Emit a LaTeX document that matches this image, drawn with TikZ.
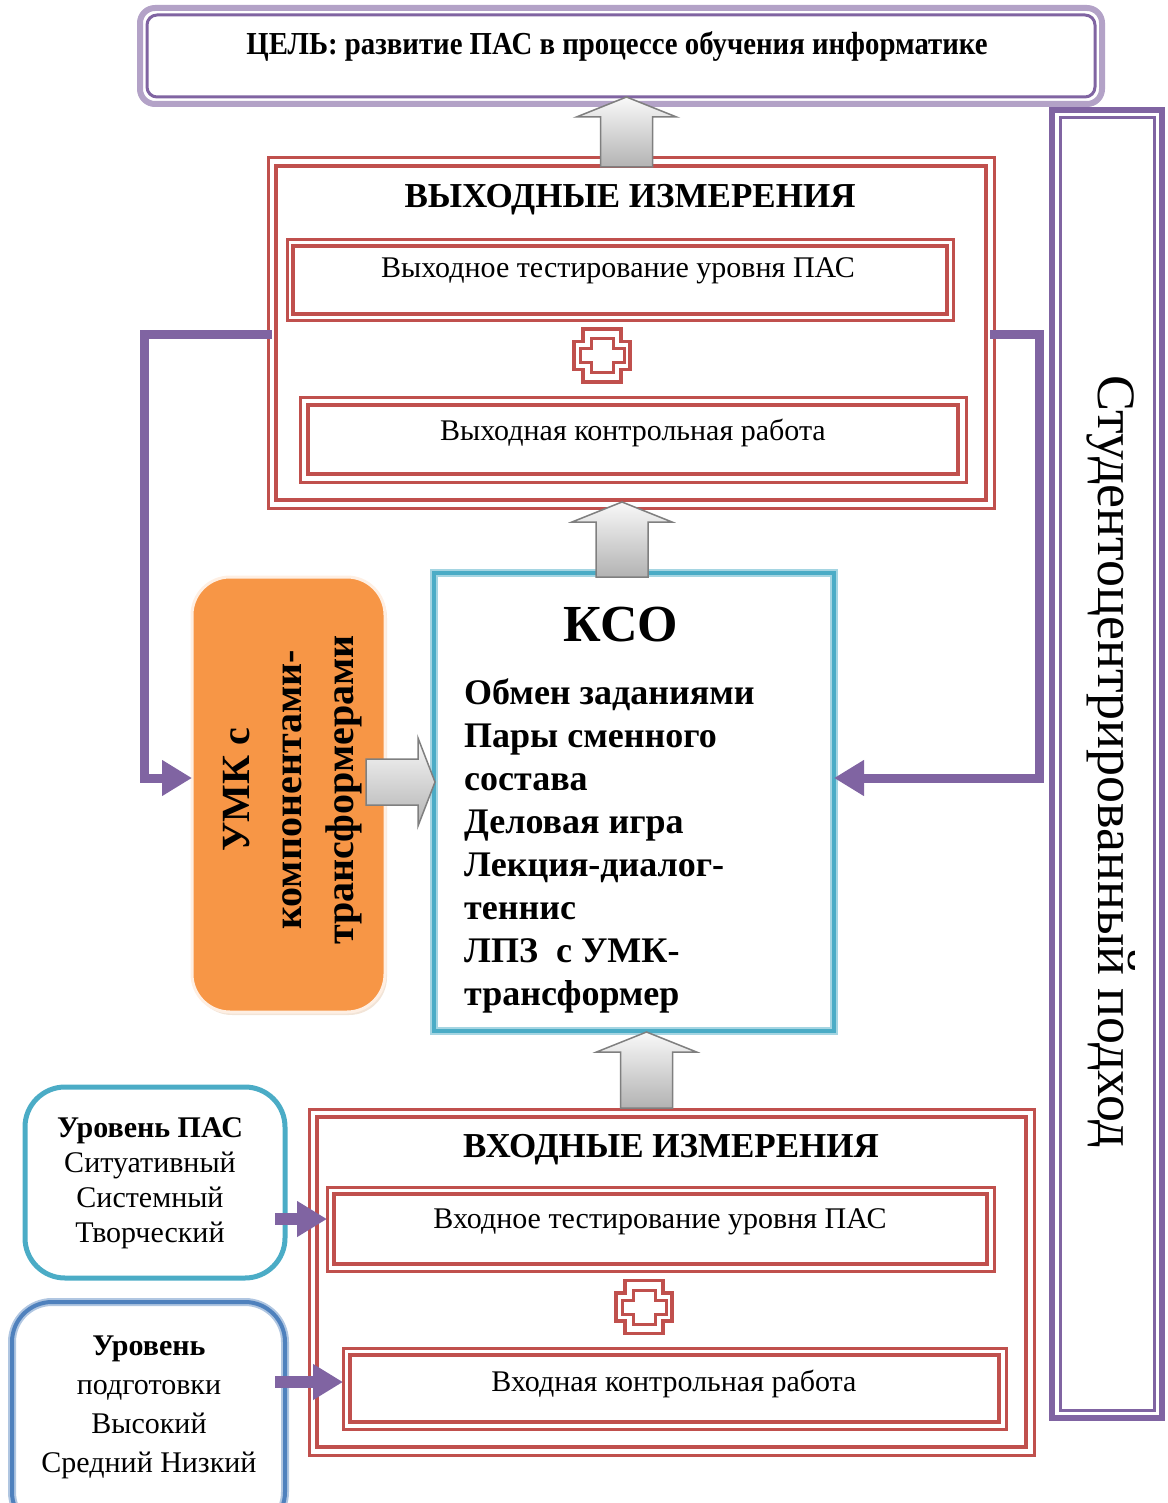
\documentclass[tikz,border=0pt]{standalone}
\usepackage{fontspec}
\setmainfont{Liberation Serif}
\usetikzlibrary{arrows.meta,calc,shadows}

\definecolor{violetd}{HTML}{8064A2}
\definecolor{lavender}{HTML}{B3A2C7}
\definecolor{brick}{HTML}{C0504D}
\definecolor{kcoteal}{HTML}{4BACC6}
\definecolor{kcolight}{HTML}{A5D5E2}
\definecolor{steelb}{HTML}{4F81BD}
\definecolor{umkorange}{HTML}{F79646}
\definecolor{arrowgray}{HTML}{7F7F7F}

\newcommand\fs[2]{\fontsize{#1}{#2}\selectfont}

% second (inner) outline of a framed node, drawn at a given inset
\newcommand\insetframe[3]{%
  \draw[#3] ($(#1.north west)+(#2,#2)$) rectangle ($(#1.south east)-(#2,#2)$);}

% grey block arrow pointing up: #1 = foot of the shaft, #2 = tip
\newcommand\upblock[2]{%
  \path[grayblock] let \p1=(#1), \p2=(#2) in
    (\x1-26pt,\y1) -- (\x1-26pt,\y2-20pt) -- (\x1-50pt,\y2-20pt) -- (\x1,\y2)
    -- (\x1+50pt,\y2-20pt) -- (\x1+26pt,\y2-20pt) -- (\x1+26pt,\y1) -- cycle;}

% grey block arrow pointing right: #1 = tail of the shaft, #2 = tip
\newcommand\rightblock[2]{%
  \path[grayblock] let \p1=(#1), \p2=(#2) in
    (\x1,\y1+23pt) -- (\x2-17pt,\y1+23pt) -- (\x2-17pt,\y1+44pt) -- (\x2,\y1)
    -- (\x2-17pt,\y1-44pt) -- (\x2-17pt,\y1-23pt) -- (\x1,\y1-23pt) -- cycle;}

\tikzset{
  frame/.style={inner sep=0pt, outer sep=0pt},
  redframe/.style={frame, draw=brick, line width=3pt},
  redinner/.style={draw=brick, line width=4.5pt},
  grayblock/.style={draw=arrowgray, line width=1.5pt, top color=gray!5, bottom color=gray!60},
  loopline/.style={draw=violetd, line width=9pt, -{Triangle[length=30pt,width=34pt]}},
  fatarrow/.style={draw=violetd, line width=12pt, -{Triangle[length=30pt,width=34pt]}},
  crossmark/.pic={
    \draw[brick, line width=3.5pt]
      (-19,-26.5) -- (19,-26.5) -- (19,-14) -- (28,-14) -- (28,14) -- (19,14)
      -- (19,26.5) -- (-19,26.5) -- (-19,14) -- (-28,14) -- (-28,-14) -- (-19,-14) -- cycle;
    \draw[brick, line width=3pt]
      (-11,-17) -- (11,-17) -- (11,-7) -- (22,-7) -- (22,7) -- (11,7)
      -- (11,17) -- (-11,17) -- (-11,7) -- (-22,7) -- (-22,-7) -- (-11,-7) -- cycle;
  },
}

\begin{document}
\begin{tikzpicture}[x=1pt,y=-1pt]
\useasboundingbox (0,0) rectangle (1167,1503);

% ---------- goal ----------
\node[frame, draw=lavender, line width=6pt, rounded corners=15pt,
      minimum width=962pt, minimum height=96pt] (goal) at (621,56) {};
\draw[violetd, line width=3pt, rounded corners=10pt]
  ($(goal.north west)+(7,7)$) rectangle ($(goal.south east)-(7,7)$);
\node[font=\fs{32}{38}\bfseries] (goaltxt) at (617,47)
  {\scalebox{0.9}[1]{ЦЕЛЬ: развитие ПАС в процессе обучения информатике}};

% ---------- output measurements ----------
\node[redframe, minimum width=726pt, minimum height=350pt] (outbox) at (631,333) {};
\insetframe{outbox}{8}{redinner}
\node[redframe, minimum width=666pt, minimum height=80pt] (outtest) at (620,280) {};
\insetframe{outtest}{6}{draw=brick, line width=3.5pt}
\node[redframe, minimum width=666pt, minimum height=85pt] (outwork) at (633,439.5) {};
\insetframe{outwork}{8}{draw=brick, line width=4pt}
\pic (outplus) at (602,355.5) {crossmark};

% ---------- KSO ----------
\node[frame, draw=kcoteal, line width=4pt,
      preaction={draw=kcolight, line width=8pt},
      minimum width=400pt, minimum height=458pt] (kso) at (634,802) {};

% ---------- UMK ----------
\node[frame, fill=umkorange, draw=white!85!umkorange, line width=3pt,
      rounded corners=38pt,
      drop shadow={shadow xshift=2pt, shadow yshift=-3pt, fill=brown!60, opacity=0.35},
      minimum width=193pt, minimum height=435pt] (umk) at (288.5,794.5) {};

% ---------- input measurements ----------
\node[redframe, minimum width=725pt, minimum height=346pt] (inbox) at (671.5,1282) {};
\insetframe{inbox}{8}{redinner}
\node[redframe, minimum width=667pt, minimum height=84pt] (intest) at (660.5,1229) {};
\insetframe{intest}{7}{draw=brick, line width=4pt}
\node[redframe, minimum width=663pt, minimum height=81pt] (inwork) at (674.5,1388.5) {};
\insetframe{inwork}{7}{draw=brick, line width=3.5pt}
\pic (inplus) at (644,1307) {crossmark};

% ---------- levels ----------
\node[frame, draw=kcoteal, line width=5pt, rounded corners=40pt,
      minimum width=260pt, minimum height=191pt] (paslevel) at (155,1182.5) {};
\node[frame, draw=steelb, line width=4pt, rounded corners=40pt,
      preaction={draw=steelb!45, line width=8pt},
      minimum width=273pt, minimum height=230pt] (prep) at (148.5,1417) {};

% ---------- student-centred approach ----------
\node[frame, draw=violetd, line width=6pt,
      minimum width=110pt, minimum height=1308pt] (approach) at (1107,764) {};
\insetframe{approach}{8}{draw=violetd, line width=3pt}

% ---------- connectors ----------
\coordinate (lbend) at (144,778);
\coordinate (rbend) at (1039,778);
\draw[loopline] ($(outbox.west)+(4,1)$) -| (lbend) -- (lbend -| umk.west);
\draw[loopline] ($(outbox.east)+(-4,1)$) -| (rbend) -- (rbend -| kso.east);

\coordinate (pasout) at (275,1219);
\coordinate (prepout) at (275,1382);
\draw[fatarrow] (pasout) -- (pasout -| intest.west);
\draw[fatarrow] (prepout) -- (prepout -| inwork.west);

\coordinate (u1) at (626.5,167);
\coordinate (u2) at (622,577);
\coordinate (u3) at (646.5,1108);
\coordinate (r1) at (366,782);
\upblock{u1}{$(u1 |- goal.south)+(0,-7)$}
\upblock{u2}{$(u2 |- outbox.south)+(0,-6)$}
\upblock{u3}{$(u3 |- kso.south)+(0,1)$}
\rightblock{r1}{$(r1 -| kso.west)+(1,0)$}

% ---------- texts ----------
\node[font=\fs{35}{42}\bfseries] (outtitle) at (630,200) {ВЫХОДНЫЕ ИЗМЕРЕНИЯ};
\node[font=\fs{30}{36}] (outtesttxt) at (618,271) {Выходное тестирование уровня ПАС};
\node[font=\fs{30}{36}] (outworktxt) at (633,433) {Выходная контрольная работа};

\node[font=\fs{52}{60}\bfseries] (ksotitle) at (621,625) {КСО};
\node[anchor=north west, align=left, inner sep=0pt, font=\fs{36}{43}\bfseries]
  (ksolist) at (464,679)
  {Обмен заданиями\\Пары сменного\\состава\\Деловая игра\\Лекция-диалог-\\теннис\\ЛПЗ~ с УМК-\\трансформер};

\node[rotate=90, align=center, font=\fs{40}{52}\bfseries] (umktxt) at (293,790)
  {УМК с\\компонентами-\\трансформерами};

\node[font=\fs{35}{42}\bfseries] (intitle) at (671,1150) {ВХОДНЫЕ ИЗМЕРЕНИЯ};
\node[font=\fs{30}{36}] (intesttxt) at (660,1222) {Входное тестирование уровня ПАС};
\node[font=\fs{30}{36}] (inworktxt) at (674,1384) {Входная контрольная работа};

\node[align=center, font=\fs{30}{35}] (pastxt) at (150,1183)
  {\textbf{Уровень ПАС}\\Ситуативный\\Системный\\Творческий};
\node[align=center, font=\fs{30}{39}] (preptxt) at (149,1407)
  {\textbf{Уровень}\\подготовки\\Высокий\\Средний Низкий};

\node[rotate=-90, font=\fs{54}{60}] (approachtxt) at (1111,762)
  {Студентоцентрированный подход};
\end{tikzpicture}
\end{document}
